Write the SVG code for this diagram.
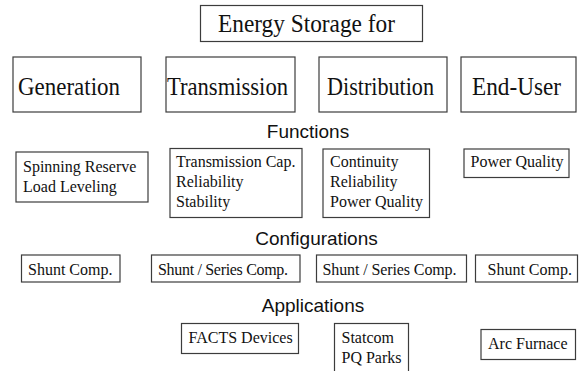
<svg xmlns="http://www.w3.org/2000/svg" width="579" height="371" viewBox="0 0 579 371">
<style>
.box{fill:#fff;stroke:#3c3c3c;stroke-width:1.2}
.big{font-size:25px}
.sm{font-size:16px}
.hd{font-family:'Liberation Sans',Arial,sans-serif;font-size:19px;fill:#111;text-anchor:middle}
</style>
<rect width="579" height="371" fill="#fff"/>
<g font-family="'Liberation Serif', 'Times New Roman', serif" fill="#111">
<g id="title"><rect class="box" x="200.5" y="5.5" width="222" height="36"/><text class="big" x="218" y="32" textLength="177" lengthAdjust="spacingAndGlyphs">Energy Storage for</text></g>
<g id="generation"><rect class="box" x="13" y="57" width="128" height="55"/><text class="big" x="18" y="95" textLength="102" lengthAdjust="spacingAndGlyphs">Generation</text></g>
<g id="transmission"><rect class="box" x="166" y="57" width="129" height="55"/><text class="big" x="167" y="95" textLength="121" lengthAdjust="spacingAndGlyphs">Transmission</text></g>
<g id="distribution"><rect class="box" x="319" y="57" width="128" height="55"/><text class="big" x="327" y="95" textLength="107" lengthAdjust="spacingAndGlyphs">Distribution</text></g>
<g id="enduser"><rect class="box" x="461" y="57" width="115" height="55"/><text class="big" x="472" y="95" textLength="89" lengthAdjust="spacingAndGlyphs">End-User</text></g>
<g id="f-gen"><rect class="box" x="16" y="152" width="132" height="50"/><text class="sm" x="23" y="172">Spinning Reserve</text><text class="sm" x="23" y="192">Load Leveling</text></g>
<g id="f-trans"><rect class="box" x="170" y="148.5" width="132" height="69"/><text class="sm" x="176" y="167">Transmission Cap.</text><text class="sm" x="176" y="187">Reliability</text><text class="sm" x="176" y="207">Stability</text></g>
<g id="f-dist"><rect class="box" x="323" y="149" width="106.5" height="68.5"/><text class="sm" x="330" y="167">Continuity</text><text class="sm" x="330" y="187">Reliability</text><text class="sm" x="330" y="207">Power Quality</text></g>
<g id="f-end"><rect class="box" x="464" y="149" width="105" height="28.5"/><text class="sm" x="470.5" y="167">Power Quality</text></g>
<g id="c-gen"><rect class="box" x="21.5" y="255" width="98.5" height="27"/><text class="sm" x="28" y="275">Shunt Comp.</text></g>
<g id="c-trans"><rect class="box" x="151.5" y="255" width="148.5" height="27"/><text class="sm" x="158" y="275" textLength="130">Shunt / Series Comp.</text></g>
<g id="c-dist"><rect class="box" x="316.5" y="255" width="150" height="27"/><text class="sm" x="322.5" y="275" textLength="134">Shunt / Series Comp.</text></g>
<g id="c-end"><rect class="box" x="475.5" y="255" width="102" height="27"/><text class="sm" x="487.5" y="275">Shunt Comp.</text></g>
<g id="a-trans"><rect class="box" x="181.5" y="323.5" width="117" height="30"/><text class="sm" x="188.5" y="343">FACTS Devices</text></g>
<g id="a-dist"><rect class="box" x="334.5" y="323.5" width="74" height="52"/><text class="sm" x="341.5" y="343">Statcom</text><text class="sm" x="341.5" y="363">PQ Parks</text></g>
<g id="a-end"><rect class="box" x="481" y="329.5" width="94.5" height="30"/><text class="sm" x="488" y="349">Arc Furnace</text></g>
</g>
<text class="hd" x="308" y="138">Functions</text>
<text class="hd" x="316.5" y="245">Configurations</text>
<text class="hd" x="313" y="312">Applications</text>
<g id="connectors"></g>
</svg>
